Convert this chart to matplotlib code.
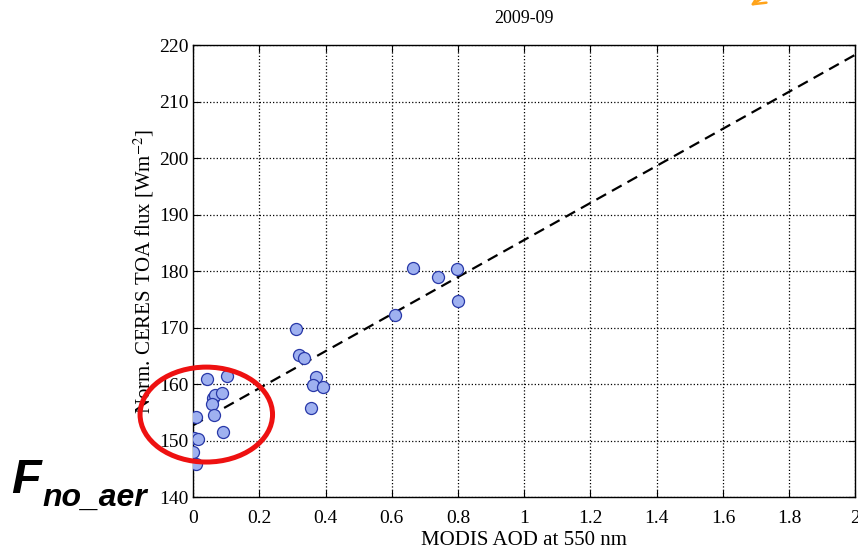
import numpy as np
import matplotlib
matplotlib.use("Agg")
import matplotlib.pyplot as plt
from matplotlib.patches import Ellipse

plt.rcParams['font.family'] = ['Liberation Serif', 'DejaVu Serif']
plt.rcParams['mathtext.fontset'] = 'stix'

# MODIS AOD vs normalised CERES TOA flux, 2009-09
aod = [0.01, 0.0, 0.004, 0.014, 0.01, 0.041, 0.104, 0.061, 0.066, 0.058,
       0.087, 0.064, 0.09, 0.31, 0.319, 0.336, 0.37, 0.361, 0.391, 0.355,
       0.61, 0.664, 0.741, 0.796, 0.799]
flux = [145.8, 148.0, 150.4, 150.2, 154.2, 160.9, 161.5, 157.6, 158.0, 156.4,
        158.5, 154.5, 151.6, 169.8, 165.2, 164.7, 161.2, 159.9, 159.5, 155.8,
        172.2, 180.5, 178.9, 180.3, 174.7]

# linear fit shown as dashed line
fit_slope = 32.8
fit_icept = 152.7
fit_x = [0.0, 2.0]

# red ellipse marking the low-AOD points (data units)
ell_center = (0.04, 154.6)
ell_w, ell_h = 0.40, 16.8

fig = plt.figure(figsize=(8.58, 5.56), dpi=100)
ax = fig.add_axes([0.225, 0.106, 0.772, 0.813])

ax.grid(True, ls=':', color='black', lw=0.9)
ax.set_axisbelow(True)

fx = np.array(fit_x)
ax.plot(fx, fit_icept + fit_slope * fx, ls='--', color='black', lw=1.6,
        dashes=(5, 3), zorder=3)
ax.scatter(aod, flux, s=75, facecolor='#9fb1f0', edgecolor='#2838a8',
           lw=0.9, zorder=4)

ax.add_patch(Ellipse(ell_center, ell_w, ell_h, fill=False, edgecolor='#ee1111',
                     lw=3.6, clip_on=False, zorder=5))

ax.set_xlim(0, 2)
ax.set_ylim(140, 220)
ax.set_xticks(np.arange(0, 2.01, 0.2))
ax.set_xticklabels(['0', '0.2', '0.4', '0.6', '0.8', '1', '1.2', '1.4', '1.6', '1.8', '2'])
ax.set_yticks(np.arange(140, 221, 10))
ax.tick_params(direction='in', top=True, right=True, labelsize=14, length=5)
ax.tick_params(axis='x', pad=9)
for s in ax.spines.values():
    s.set_linewidth(1.0)

ax.set_title('2009-09', fontsize=13, pad=16)
ax.set_xlabel('MODIS AOD at 550 nm', fontsize=15, labelpad=3)
ax.set_ylabel('Norm. CERES TOA flux [Wm$^{-2}$]', fontsize=15, labelpad=2)

# annotation text at lower left
fig.text(0.013, 0.113, 'F', fontsize=35, fontweight='bold', style='italic',
         family='Liberation Sans')
fig.text(0.049, 0.090, 'no_aer', fontsize=23, fontweight='bold', style='italic',
         family='Liberation Sans')

# orange arrow cut at the top edge
ax.annotate('', xy=(0.872, 0.987), xytext=(0.915, 1.03), xycoords='figure fraction',
            textcoords='figure fraction',
            arrowprops=dict(arrowstyle='->', color='#ffa31a', lw=1.8,
                            mutation_scale=22), annotation_clip=False)

fig.savefig('out.png', dpi=100)
